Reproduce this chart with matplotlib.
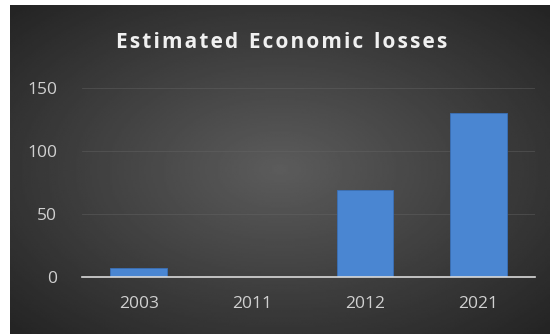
import numpy as np
import matplotlib.pyplot as plt

years = ["2003", "2011", "2012", "2021"]
losses = [7, 0, 69, 130]
y_ticks = [0, 50, 100, 150]
title = "Estimated Economic losses"

W, H = 550, 334
fig = plt.figure(figsize=(W / 100, H / 100), dpi=100)
fig.patch.set_facecolor("white")

# dark radial background for the chart area
bg = fig.add_axes([10 / W, 0, 540 / W, 329 / H])
yy, xx = np.mgrid[-1:1:200j, -1:1:300j]
r = np.sqrt(xx ** 2 + yy ** 2) / np.sqrt(2)
shade = 0.36 - 0.22 * r
bg.imshow(shade, cmap="gray", vmin=0, vmax=1, aspect="auto",
          extent=[0, 1, 0, 1])
bg.set_axis_off()

ax = fig.add_axes([82 / W, (H - 277) / H, (535 - 82) / W, (277 - 88) / H])
ax.patch.set_alpha(0)
x = np.arange(len(years))
ax.bar(x, losses, width=0.5, color="#4a86d2", edgecolor="#3a70b8",
       linewidth=0.6, zorder=3)
ax.set_xlim(-0.5, len(years) - 0.5)
ax.set_ylim(0, 150)
ax.set_yticks(y_ticks)
ax.set_xticks(x, years)
ax.tick_params(length=0, colors="#d0d0d0", labelsize=12.5)
ax.tick_params(axis="x", pad=14)
ax.tick_params(axis="y", pad=18)
for lab in ax.get_xticklabels() + ax.get_yticklabels():
    lab.set_fontfamily("Open Sans")
ax.grid(axis="y", color="#666666", linewidth=0.6, alpha=0.5, zorder=0)
for s in ["top", "right", "left"]:
    ax.spines[s].set_visible(False)
ax.spines["bottom"].set_color("#d9d9d9")
ax.spines["bottom"].set_linewidth(1.2)
ax.spines["bottom"].set_zorder(4)

# letter-spaced title using hair spaces between characters
spaced = "\u200a".join(title).replace("\u200a \u200a", "  ")
fig.text(282 / W, 1 - 43 / H, spaced, ha="center", va="center",
         color="#f0f0f0", fontsize=15, fontweight="bold", family="Open Sans")

fig.savefig("out.png", dpi=100, facecolor=fig.get_facecolor())
